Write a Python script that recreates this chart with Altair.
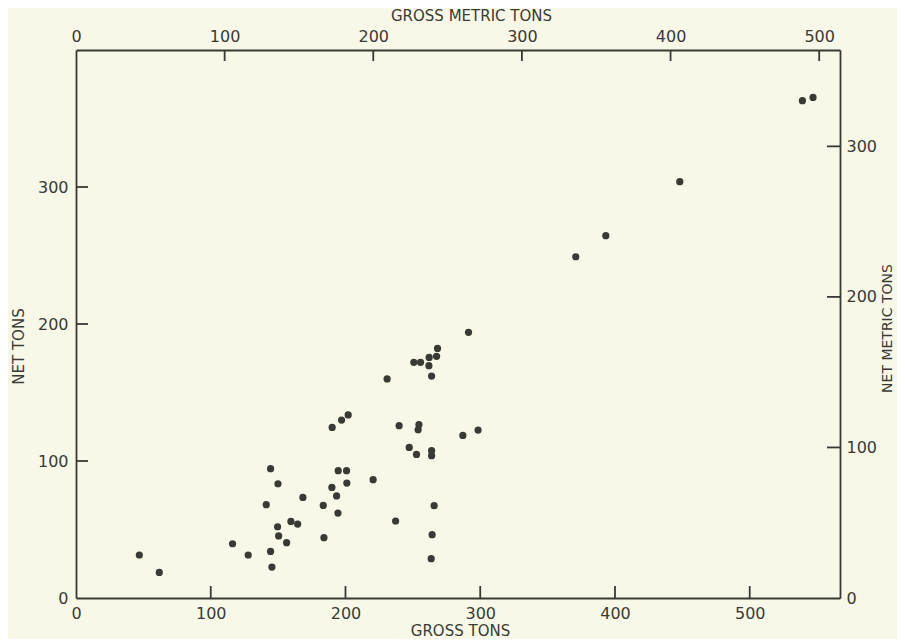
import altair as alt
import pandas as pd

# Data (gross tons vs net tons)
gross_tons = [47.0, 61.8, 116.2, 127.8, 144.4, 149.9, 141.2, 149.6, 150.4, 156.3,
              144.4, 145.4, 159.5, 164.5, 168.4, 183.5, 184.0, 189.9, 193.4, 194.4,
              190.1, 197.1, 202.0, 194.6, 200.8, 201.0, 220.5, 237.2, 230.9, 239.8,
              254.5, 253.9, 247.3, 252.7, 263.9, 263.9, 265.8, 264.3, 263.6, 250.7,
              255.7, 262.1, 261.9, 268.3, 267.6, 263.9, 291.3, 287.1, 298.4, 370.9,
              393.2, 448.1, 539.1, 547.0]
net_tons = [31.4, 18.7, 39.6, 31.4, 94.4, 83.4, 68.1, 52.0, 45.3, 40.4,
            34.0, 22.6, 55.9, 54.0, 73.4, 67.6, 44.0, 80.7, 74.5, 62.0,
            124.5, 129.9, 133.6, 92.9, 92.9, 83.9, 86.4, 56.2, 159.9, 125.8,
            126.5, 122.8, 109.9, 104.8, 107.5, 103.9, 67.4, 46.2, 28.7, 172.0,
            172.0, 175.6, 169.6, 182.2, 176.4, 162.0, 193.9, 118.7, 122.6, 249.1,
            264.5, 303.9, 363.0, 365.4]

x_ticks = [0, 100, 200, 300, 400, 500]
y_ticks = [0, 100, 200, 300]
gross_metric_ticks = [0, 100, 200, 300, 400, 500]
net_metric_ticks = [0, 100, 200, 300]

X_DOM = [0, 567]
Y_DOM = [0, 400]
XM_DOM = [0, 514]
YM_DOM = [0, 364]

W, H = 764, 548
TICK = 12

df = pd.DataFrame({"gross": gross_tons, "net": net_tons})
metric = pd.DataFrame({"gross_metric": [0], "net_metric": [0]})

INK = "#3a3a34"
BG = "#f7f8e7"
FONT = "DejaVu Sans"


def sc(dom):
    return alt.Scale(domain=dom, nice=False, zero=True)


points = alt.Chart(df).mark_circle(size=52, color=INK, opacity=1).encode(
    x=alt.X("gross:Q", scale=sc(X_DOM),
            axis=alt.Axis(orient="bottom", values=x_ticks, title="GROSS TONS",
                          ticks=False, labelPadding=7,
                          titleX=384, titleY=32, titleBaseline="middle")),
    y=alt.Y("net:Q", scale=sc(Y_DOM),
            axis=alt.Axis(orient="left", values=y_ticks, title="NET TONS",
                          ticks=False, labelPadding=8,
                          titleX=-58, titleY=296, titleBaseline="middle")),
)

metric_layer = alt.Chart(metric).mark_point(opacity=0).encode(
    x=alt.X("gross_metric:Q", scale=sc(XM_DOM),
            axis=alt.Axis(orient="top", values=gross_metric_ticks,
                          title="GROSS METRIC TONS",
                          ticks=False, labelPadding=6,
                          titleX=395, titleY=-35, titleBaseline="middle")),
    y=alt.Y("net_metric:Q", scale=sc(YM_DOM),
            axis=alt.Axis(orient="right", values=net_metric_ticks,
                          title="NET METRIC TONS",
                          ticks=False, labelPadding=6,
                          titleAngle=270, titleFontSize=14,
                          titleX=47, titleY=278, titleBaseline="middle")),
)

# inward tick marks, placed through the same scales
rule_style = dict(color=INK, strokeWidth=1.8)

bottom_ticks = alt.Chart(pd.DataFrame({"v": x_ticks[1:]})).mark_rule(**rule_style).encode(
    x=alt.X("v:Q", scale=sc(X_DOM), axis=None),
    y=alt.value(H - TICK), y2=alt.value(H),
)
left_ticks = alt.Chart(pd.DataFrame({"v": y_ticks[1:]})).mark_rule(**rule_style).encode(
    y=alt.Y("v:Q", scale=sc(Y_DOM), axis=None),
    x=alt.value(0), x2=alt.value(TICK),
)
top_ticks = alt.Chart(pd.DataFrame({"v": gross_metric_ticks[1:]})).mark_rule(**rule_style).encode(
    x=alt.X("v:Q", scale=sc(XM_DOM), axis=None),
    y=alt.value(0), y2=alt.value(TICK - 1),
)
right_ticks = alt.Chart(pd.DataFrame({"v": net_metric_ticks[1:]})).mark_rule(**rule_style).encode(
    y=alt.Y("v:Q", scale=sc(YM_DOM), axis=None),
    x=alt.value(W - TICK - 1), x2=alt.value(W),
)

chart = alt.layer(
    points, metric_layer, bottom_ticks, left_ticks, top_ticks, right_ticks
).resolve_scale(
    x="independent", y="independent"
).properties(
    width=W,
    height=H,
    padding={"left": 68, "top": 42, "right": 57, "bottom": 41},
    autosize=alt.AutoSizeParams(type="none"),
    background=BG,
).configure_view(
    stroke=None
).configure_axis(
    grid=False,
    domainColor=INK,
    domainWidth=1.8,
    labelColor=INK,
    titleColor=INK,
    labelFont=FONT,
    titleFont=FONT,
    labelFontSize=16,
    titleFontSize=15,
    titleFontWeight="normal",
    labelFlush=False,
    labelOverlap=False,
)

chart.save("out.html", embed_options={"renderer": "svg", "actions": False})
